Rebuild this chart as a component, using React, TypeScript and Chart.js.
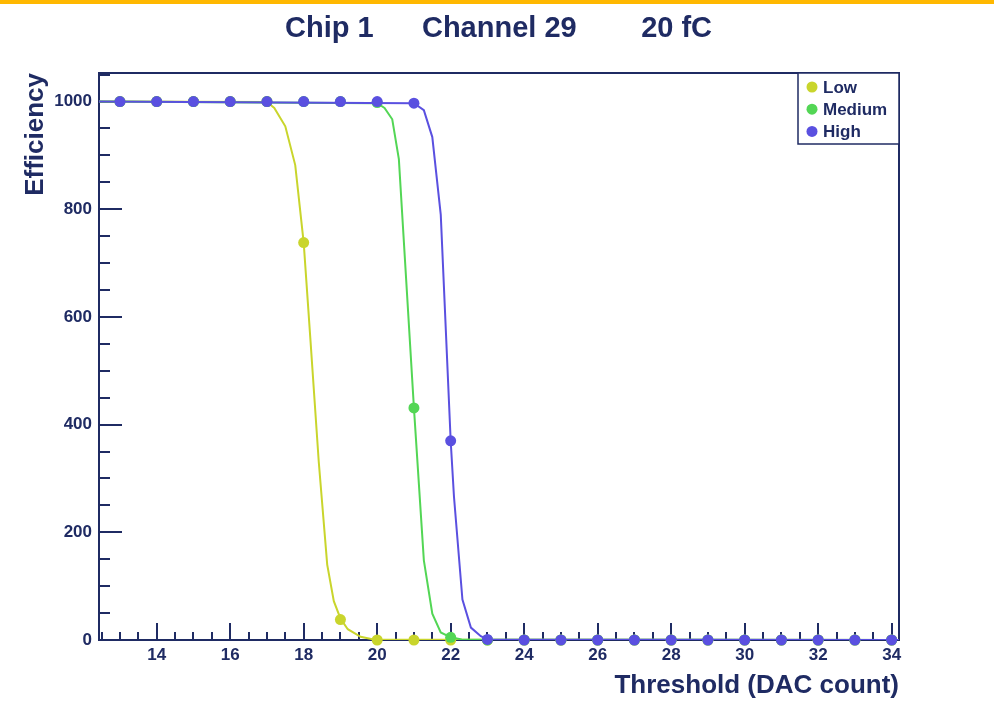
import React, { useEffect, useRef } from "react";
import { Chart, registerables } from "chart.js";

Chart.register(...registerables);

const NAVY = "#1f2b63";
const FONT = '"Liberation Sans", Arial, Helvetica, sans-serif';

const titleText = "Chip 1      Channel 29        20 fC";
const xAxisTitle = "Threshold (DAC count)";
const yAxisTitle = "Efficiency";

const seriesNames = ["Low", "Medium", "High"];
const seriesColors = ["#c9d52c", "#53d655", "#5a50e0"];

const thresholds = [13, 14, 15, 16, 17, 18, 19, 20, 21, 22, 23, 24, 25, 26, 27, 28, 29, 30, 31, 32, 33, 34];
const lowEff = [1000, 1000, 1000, 1000, 1000, 738, 38, 0, 0, 0, 0, 0, 0, 0, 0, 0, 0, 0, 0, 0, 0, 0];
const mediumEff = [1000, 1000, 1000, 1000, 1000, 1000, 1000, 998, 431, 5, 0, 0, 0, 0, 0, 0, 0, 0, 0, 0, 0, 0];
const highEff = [1000, 1000, 1000, 1000, 1000, 1000, 1000, 1000, 997, 370, 1, 0, 0, 0, 0, 0, 0, 0, 0, 0, 0, 0];

const lowFitX = [12.43, 17.0, 17.2, 17.5, 17.77, 18.0, 18.18, 18.41, 18.64, 18.82, 19.0, 19.2, 19.55, 19.9, 34.2];
const lowFitY = [1000, 999, 988, 954, 882, 738, 561, 331, 140, 72, 40, 20, 6, 1, 0];
const mediumFitX = [12.43, 20.0, 20.2, 20.41, 20.59, 21.0, 21.27, 21.5, 21.73, 22.0, 22.3, 34.2];
const mediumFitY = [1000, 997, 988, 967, 893, 431, 148, 49, 14, 5, 1, 0];
const highFitX = [12.43, 21.0, 21.27, 21.5, 21.73, 22.0, 22.09, 22.32, 22.55, 22.82, 23.0, 34.2];
const highFitY = [1000, 997, 984, 934, 790, 370, 266, 75, 23, 7, 1, 0];

const xTickLabels = [14, 16, 18, 20, 22, 24, 26, 28, 30, 32, 34];
const yTickLabels = [0, 200, 400, 600, 800, 1000];

const X_MIN = 12.43;
const X_MAX = 34.2;
const Y_MIN = 0;
const Y_MAX = 1053;

const toXY = (xs: number[], ys: number[]) => xs.map((x, i) => ({ x, y: ys[i] }));

const framePlugin = {
  id: "rootFrame",
  beforeDraw(chart: any) {
    const ctx = chart.ctx;
    ctx.save();
    ctx.fillStyle = "#ffffff";
    ctx.fillRect(0, 0, chart.width, chart.height);
    ctx.fillStyle = "#FFB800";
    ctx.fillRect(0, 0, chart.width, 4);
    ctx.fillStyle = NAVY;
    ctx.font = `bold 29px ${FONT}`;
    ctx.textAlign = "left";
    ctx.textBaseline = "alphabetic";
    ctx.fillText(titleText, 285, 37);
    ctx.restore();
  },
  beforeDatasetsDraw(chart: any) {
    const ctx = chart.ctx;
    const { left, right, top, bottom } = chart.chartArea;
    const xs = chart.scales.x;
    const ys = chart.scales.y;
    ctx.save();
    ctx.strokeStyle = NAVY;
    ctx.lineWidth = 2;
    ctx.strokeRect(left, top, right - left, bottom - top);
    ctx.beginPath();
    for (let v = 12.5; v <= X_MAX + 1e-9; v += 0.5) {
      const px = Math.round(xs.getPixelForValue(v));
      const major = Math.abs(v / 2 - Math.round(v / 2)) < 1e-9;
      const len = major ? 17 : 8;
      ctx.moveTo(px, bottom);
      ctx.lineTo(px, bottom - len);
    }
    for (let v = 0; v <= Y_MAX + 1e-9; v += 50) {
      const py = Math.round(ys.getPixelForValue(v));
      const major = v % 200 === 0;
      const len = major ? 23 : 11;
      ctx.moveTo(left, py);
      ctx.lineTo(left + len, py);
    }
    ctx.stroke();
    ctx.restore();
  },
  afterDraw(chart: any) {
    const ctx = chart.ctx;
    const { right, top } = chart.chartArea;
    const bx = right - 101;
    const bw = 101;
    const bh = 71;
    ctx.save();
    ctx.fillStyle = "#ffffff";
    ctx.fillRect(bx, top, bw, bh);
    ctx.strokeStyle = NAVY;
    ctx.lineWidth = 1.5;
    ctx.strokeRect(bx, top, bw, bh);
    ctx.font = `bold 17px ${FONT}`;
    ctx.textBaseline = "middle";
    ctx.textAlign = "left";
    seriesNames.forEach((name, i) => {
      const cy = top + 14 + i * 22.2;
      ctx.fillStyle = seriesColors[i];
      ctx.beginPath();
      ctx.arc(bx + 14, cy, 5.5, 0, Math.PI * 2);
      ctx.fill();
      ctx.fillStyle = NAVY;
      ctx.fillText(name, bx + 25, cy + 1);
    });
    ctx.restore();
  },
};

export default function App() {
  const ref = useRef<HTMLCanvasElement | null>(null);

  useEffect(() => {
    if (!ref.current) return;
    const fits = [toXY(lowFitX, lowFitY), toXY(mediumFitX, mediumFitY), toXY(highFitX, highFitY)];
    const pts = [lowEff, mediumEff, highEff].map((arr) => thresholds.map((x, i) => ({ x, y: arr[i] })));
    const datasets: any[] = [];
    seriesNames.forEach((name, i) => {
      datasets.push({
        label: name + " fit",
        data: fits[i],
        showLine: true,
        borderColor: seriesColors[i],
        borderWidth: 2,
        pointRadius: 0,
        pointHoverRadius: 0,
        tension: 0,
        fill: false,
        order: 10 - i * 2,
      });
      datasets.push({
        label: name,
        data: pts[i],
        showLine: false,
        pointRadius: 5.5,
        pointHoverRadius: 5.5,
        pointBackgroundColor: seriesColors[i],
        pointBorderColor: seriesColors[i],
        pointBorderWidth: 0,
        clip: false,
        order: 9 - i * 2,
      });
    });

    const tickFont = { family: FONT, size: 17, weight: "bold" as const };
    const titleFont = { family: FONT, size: 26, weight: "bold" as const };

    const chart = new Chart(ref.current, {
      type: "scatter",
      data: { datasets },
      plugins: [framePlugin],
      options: {
        animation: false,
        responsive: false,
        devicePixelRatio: 1,
        layout: { padding: { left: 0, right: 95, top: 73, bottom: 0 } },
        plugins: {
          legend: { display: false },
          tooltip: { enabled: false },
          title: { display: false },
        },
        events: [],
        scales: {
          x: {
            type: "linear",
            min: X_MIN,
            max: X_MAX,
            afterBuildTicks: (s: any) => {
              s.ticks = xTickLabels.map((v) => ({ value: v }));
            },
            afterFit: (s: any) => {
              s.height = 66;
            },
            grid: { display: false, drawTicks: false },
            border: { display: false },
            ticks: {
              color: NAVY,
              font: tickFont,
              padding: 5,
              maxRotation: 0,
              autoSkip: false,
              callback: (v: any) => String(v),
            },
            title: {
              display: true,
              text: xAxisTitle,
              align: "end",
              color: NAVY,
              font: titleFont,
              padding: { top: 0, bottom: 5 },
            },
          },
          y: {
            type: "linear",
            min: Y_MIN,
            max: Y_MAX,
            afterBuildTicks: (s: any) => {
              s.ticks = yTickLabels.map((v) => ({ value: v }));
            },
            afterFit: (s: any) => {
              s.width = 99;
            },
            grid: { display: false, drawTicks: false },
            border: { display: false },
            ticks: {
              color: NAVY,
              font: tickFont,
              padding: 7,
              autoSkip: false,
              callback: (v: any) => String(v),
            },
            title: {
              display: true,
              text: yAxisTitle,
              align: "end",
              color: NAVY,
              font: titleFont,
              padding: { top: 20, bottom: 0 },
            },
          },
        },
      } as any,
    });
    return () => chart.destroy();
  }, []);

  return (
    <div style={{ position: "fixed", left: 0, top: 0, width: 994, height: 706, background: "#fff" }}>
      <canvas ref={ref} width={994} height={706} style={{ display: "block", width: 994, height: 706 }} />
    </div>
  );
}
